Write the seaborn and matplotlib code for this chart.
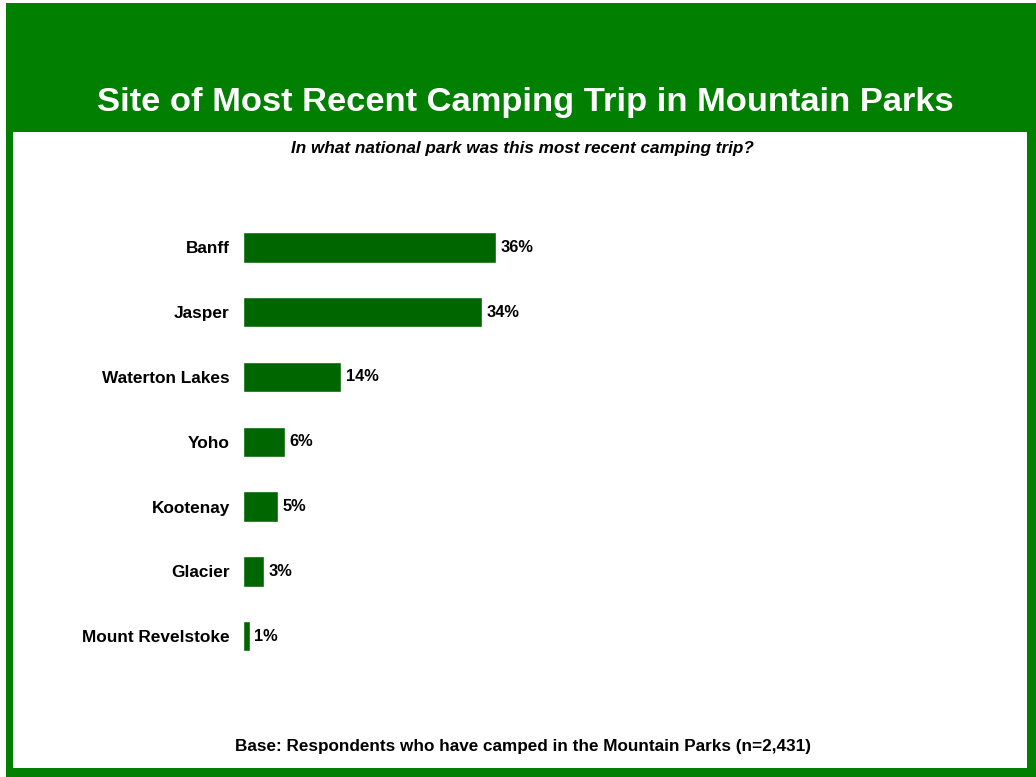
import matplotlib
matplotlib.use("Agg")
import matplotlib.pyplot as plt
from matplotlib.patches import Rectangle
import seaborn as sns
import pandas as pd

parks = ["Banff", "Jasper", "Waterton Lakes", "Yoho", "Kootenay", "Glacier", "Mount Revelstoke"]
shares = [36, 34, 14, 6, 5, 3, 1]

title = "Site of Most Recent Camping Trip in Mountain Parks"
question = "In what national park was this most recent camping trip?"
base_note = "Base: Respondents who have camped in the Mountain Parks (n=2,431)"

FRAME_GREEN = "#007f00"
BAR_GREEN = "#006600"

sns.set_theme(style="white")
plt.rcParams["font.family"] = ["Liberation Sans", "DejaVu Sans"]

W, H = 1036, 777
fig = plt.figure(figsize=(W / 100, H / 100), dpi=100, facecolor="white")


def px_rect(x0, y0, x1, y1, color):
    fig.patches.append(Rectangle((x0 / W, 1 - y1 / H), (x1 - x0) / W, (y1 - y0) / H,
                                 transform=fig.transFigure, facecolor=color,
                                 edgecolor="none", zorder=-10))


# green frame with header band, white content panel inside
px_rect(6, 3, 1036, 777, FRAME_GREEN)
px_rect(13, 132, 1027, 768, "white")

fig.text(525 / W, 1 - 111 / H, title, color="white", fontsize=24.8, fontweight="bold",
         ha="center", va="baseline")
fig.text(522 / W, 1 - 152.5 / H, question, color="black", fontsize=12.3, fontweight="bold",
         style="italic", ha="center", va="baseline")
fig.text(523 / W, 1 - 750.5 / H, base_note, color="black", fontsize=12.3, fontweight="bold",
         ha="center", va="baseline")

# plot area: x from 243px, 7.03 px per percent
ax_left, ax_right = 243, 243 + 703
ax_top, ax_bottom = 214.9, 668.6
ax = fig.add_axes([ax_left / W, 1 - ax_bottom / H, (ax_right - ax_left) / W, (ax_bottom - ax_top) / H])
ax.set_facecolor("none")
ax.set_zorder(1)

df = pd.DataFrame({"park": parks, "share": shares})
sns.barplot(data=df, x="share", y="park", orient="h", color=BAR_GREEN, width=0.47,
            saturation=1, ax=ax)

ax.set_xlim(0, 100)
ax.set_ylim(len(parks) - 0.5, -0.5)
for s in ax.spines.values():
    s.set_visible(False)
ax.set_xticks([])
ax.set_xlabel("")
ax.set_ylabel("")
ax.tick_params(axis="y", length=0, pad=9.5)
for lbl in ax.get_yticklabels():
    lbl.set_fontweight("bold")
    lbl.set_fontsize(12.4)
    lbl.set_color("black")

ax.bar_label(ax.containers[0], labels=[f"{v}%" for v in shares], padding=3,
             fontsize=11.8, fontweight="bold", color="black")

fig.savefig("out.png", dpi=100, facecolor="white")
